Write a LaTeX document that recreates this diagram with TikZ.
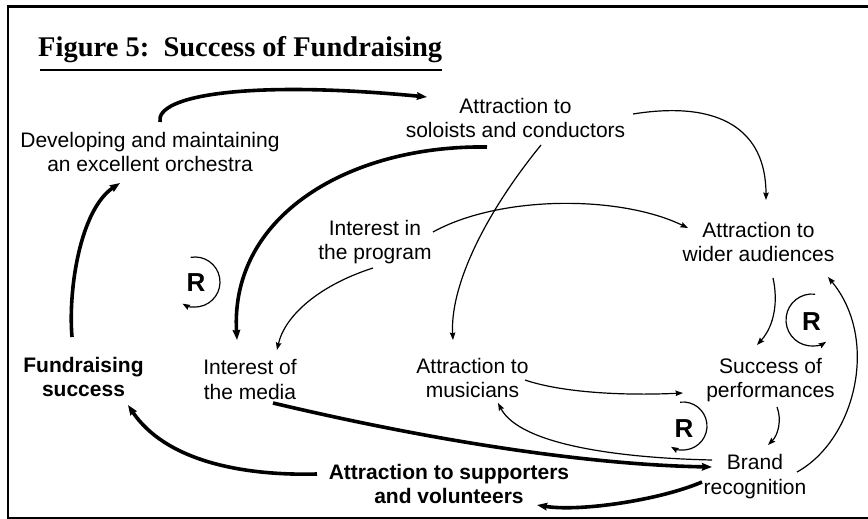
\documentclass[tikz,border=0pt]{standalone}
\usepackage{fontspec}
\setmainfont{Liberation Sans}
\newfontfamily\titlefont{Liberation Serif}
\usetikzlibrary{arrows.meta}
\begin{document}
\begin{tikzpicture}[x=1pt,y=-1pt,
  lbl/.style={align=center, inner sep=0pt, font=\fontsize{21}{24.5}\selectfont},
  blbl/.style={align=center, inner sep=0pt, font=\fontsize{21}{24.5}\selectfont\bfseries},
  rlbl/.style={inner sep=0pt, font=\fontsize{26}{26}\selectfont\bfseries},
  thinarr/.style={line width=1.2pt, -{Stealth[length=7.5pt,width=5.5pt,inset=1pt]}},
  thickarr/.style={line width=3.6pt, -{Stealth[length=10pt,width=7.5pt,inset=1pt]}},
  loop/.style={line width=1.2pt, -{Stealth[length=7.5pt,width=5.5pt,inset=1pt]}}]
\useasboundingbox (0,0) rectangle (868,519);
% frame
\draw[line width=3.3pt] (868,6.7) -- (7.8,6.7);
\draw[line width=2.6pt] (7.8,5.2) -- (7.8,517.5);
\draw[line width=2pt] (6.5,517.5) -- (868,517.5);
% title
\node[anchor=base west, inner sep=0pt, font=\titlefont\bfseries\fontsize{28.5}{30}\selectfont] (title) at (38,57) {Figure 5:\ \ Success of Fundraising};
\draw[line width=1.5pt] ([shift={(2,13)}]title.base west) -- ([shift={(0,13)}]title.base east);
% nodes
\node[lbl] (dev) at (150,152) {Developing and maintaining\\an excellent orchestra};
\node[lbl] (sol) at (515.5,118) {Attraction to\\soloists and conductors};
\node[lbl] (prog) at (375,242) {Interest in\\the program};
\node[lbl] (wide) at (758.5,242) {Attraction to\\wider audiences};
\node[blbl] (fund) at (83.5,377) {Fundraising\\success};
\node[lbl] (media) at (250,379.5) {Interest of\\the media};
\node[lbl] (mus) at (472.5,378) {Attraction to\\musicians};
\node[lbl] (perf) at (770.5,380) {Success of\\performances};
\node[lbl] (brand) at (755,476.5) {Brand\\recognition};
\node[blbl] (supp) at (449,484) {Attraction to supporters\\and volunteers};
\node[rlbl] (r1) at (196,283) {R};
\node[rlbl] (r2) at (811.5,321.5) {R};
\node[rlbl] (r3) at (684,428.5) {R};
% thick connectors
\draw[thickarr] ([shift={(10,-30)}]dev.center) .. controls (155,95) and (250,80) .. ([shift={(-88.5,-21)}]sol.center);
\draw[thickarr] ([shift={(-11.5,-40)}]fund.center) .. controls (68,290) and (80,210) .. ([shift={(-30,31)}]dev.center);
\draw[thickarr] ([shift={(-28.5,29)}]sol.center) .. controls (350,145) and (230,215) .. ([shift={(-13,-39.5)}]media.center);
\draw[thickarr] ([shift={(23,23.5)}]media.center) .. controls (450,445) and (600,465) .. ([shift={(-43,-9.5)}]brand.center);
\draw[thickarr] ([shift={(-132,-10)}]supp.center) .. controls (240,476) and (165,460) .. ([shift={(44.5,28)}]fund.center);
\draw[thickarr] ([shift={(-53,5.5)}]brand.center) .. controls (660,500) and (580,512) .. ([shift={(88,21)}]supp.center);
% thin connectors
\draw[thinarr] ([shift={(25.5,27)}]sol.center) .. controls (480,220) and (450,290) .. ([shift={(-19.5,-38)}]mus.center);
\draw[thinarr] ([shift={(117.5,-4)}]sol.center) .. controls (720,100) and (766,130) .. ([shift={(7.5,-42)}]wide.center);
\draw[thinarr] ([shift={(58,-10)}]prog.center) .. controls (500,195) and (620,195) .. ([shift={(-70.5,-14)}]wide.center);
\draw[thinarr] ([shift={(-2,26)}]prog.center) .. controls (320,285) and (285,315) .. ([shift={(27,-29.5)}]media.center);
\draw[thinarr] ([shift={(14.5,36)}]wide.center) .. controls (778,300) and (775,325) .. ([shift={(-13.5,-35)}]perf.center);
\draw[thinarr] ([shift={(52.5,2)}]mus.center) .. controls (560,392) and (620,396) .. ([shift={(-87.5,13)}]perf.center);
\draw[thinarr] ([shift={(6.5,27)}]perf.center) .. controls (782,420) and (778,435) .. ([shift={(13,-31.5)}]brand.center);
\draw[thinarr] ([shift={(-43,-16.5)}]brand.center) .. controls (620,458) and (520,445) .. ([shift={(25.5,25)}]mus.center);
\draw[thinarr] ([shift={(42,-4.5)}]brand.center) .. controls (855,440) and (880,340) .. ([shift={(69.5,35)}]wide.center);
% loop markers
\draw[loop] ([shift={(-1,-1)}]r1.center) ++(-100:25) arc[start angle=-100, end angle=120, radius=25];
\draw[loop] ([shift={(0.5,-1.5)}]r2.center) ++(-83:26) arc[start angle=-83, end angle=-303, radius=26];
\draw[loop] ([shift={(-1,-2.5)}]r3.center) ++(-97:24) arc[start angle=-97, end angle=120, radius=24];
\end{tikzpicture}
\end{document}
